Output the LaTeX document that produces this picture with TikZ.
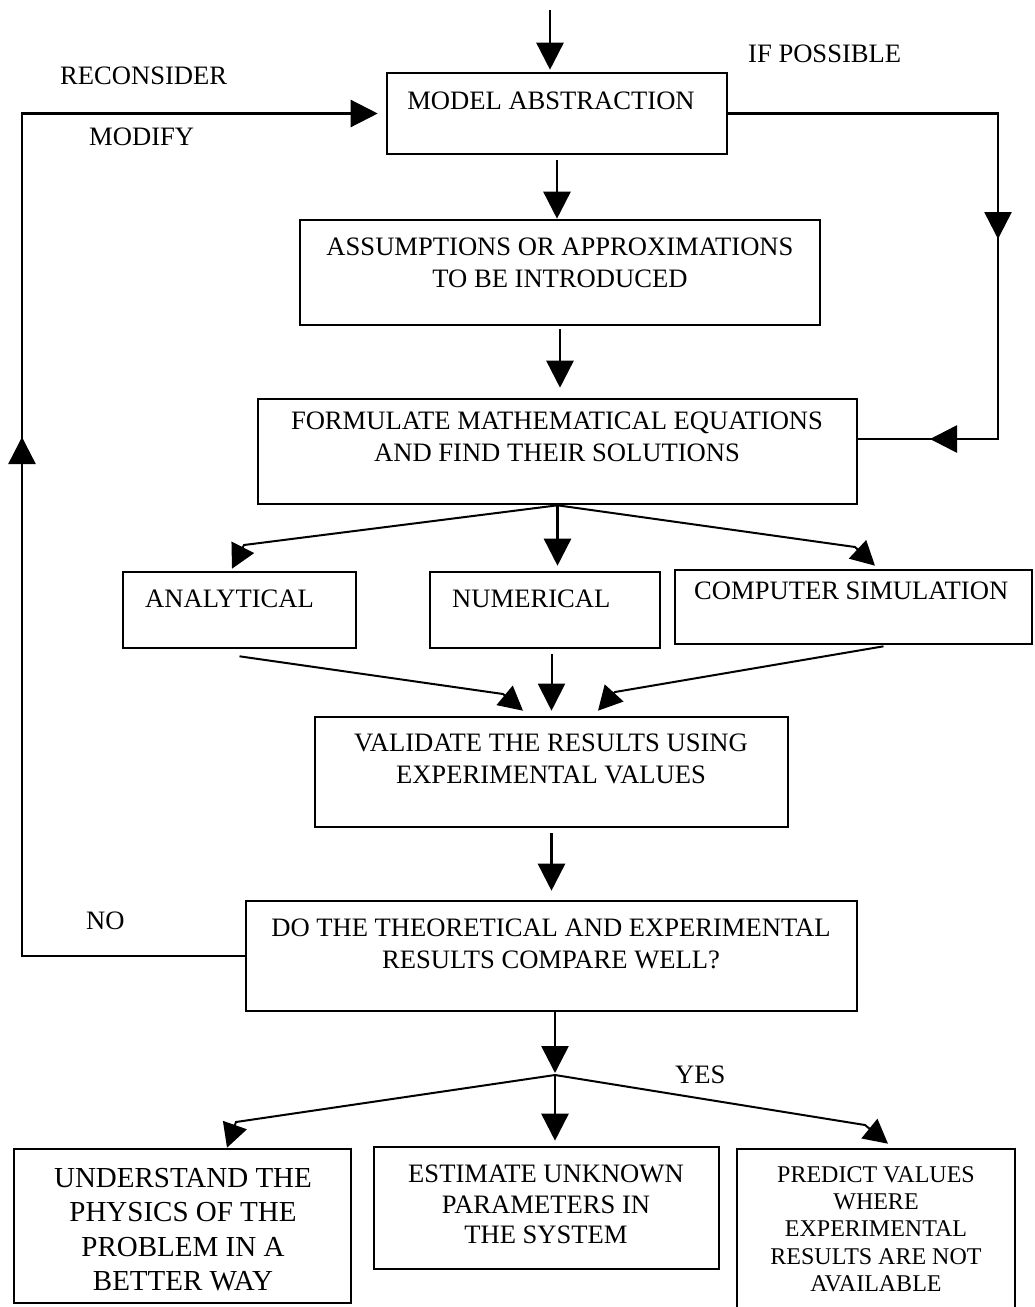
\documentclass[tikz,border=0pt]{standalone}
\usepackage{fontspec}
\setmainfont{Liberation Serif}
\usetikzlibrary{arrows.meta,calc}
\begin{document}
\begin{tikzpicture}[x=1pt,y=-1pt]
\tikzset{
 box/.style={draw, line width=2.6pt, inner sep=0pt},
 conn/.style={line width=2.3pt},
 arr/.style={line width=2.6pt, -{Triangle[length=27pt,width=27pt]}},
 sarr/.style={line width=2pt, -{Triangle[length=24pt,width=25pt]}},
 txt/.style={font=\fontsize{26.6}{32}\selectfont, inner sep=0pt, align=center},
 midtxt/.style={font=\fontsize{26.6}{30.5}\selectfont, inner sep=0pt, align=center},
 bigtxt/.style={font=\fontsize{29}{34.5}\selectfont, inner sep=0pt, align=center},
 smalltxt/.style={font=\fontsize{24}{27.3}\selectfont, inner sep=0pt, align=center},
}
\path[use as bounding box, fill=white] (0,0) rectangle (1034,1307);

% boxes
\node[box, minimum width=340pt, minimum height=81pt] (m) at (557,113.5) {};
\node[box, minimum width=520pt, minimum height=105pt] (a) at (560,272.5) {};
\node[box, minimum width=599pt, minimum height=105pt] (f) at (557.5,451.5) {};
\node[box, minimum width=233pt, minimum height=76pt] (an) at (239.5,610) {};
\node[box, minimum width=230pt, minimum height=76pt] (nu) at (545,610) {};
\node[box, minimum width=357pt, minimum height=74pt] (cs) at (853.5,607) {};
\node[box, minimum width=473pt, minimum height=110pt] (v) at (551.5,772) {};
\node[box, minimum width=611pt, minimum height=110pt] (d) at (551.5,956) {};
\node[box, minimum width=337pt, minimum height=154pt] (u) at (182.5,1226) {};
\node[box, minimum width=345pt, minimum height=122pt] (e) at (546.5,1208) {};
\node[box, minimum width=278pt, minimum height=171pt] (p) at (876,1234.5) {};

% texts
\node[txt, anchor=north] (tm) at (551,92) {MODEL ABSTRACTION};
\node[txt, anchor=north] (ta) at (560,238) {ASSUMPTIONS OR APPROXIMATIONS\\TO BE INTRODUCED};
\node[txt, anchor=north] (tf) at (557,412) {FORMULATE MATHEMATICAL EQUATIONS\\AND FIND THEIR SOLUTIONS};
\node[txt, anchor=north west] (tan) at (145,590) {ANALYTICAL};
\node[txt, anchor=north west] (tnu) at (452,590) {NUMERICAL};
\node[txt, anchor=north west] (tcs) at (694,582) {COMPUTER SIMULATION};
\node[txt, anchor=north] (tv) at (551,734) {VALIDATE THE RESULTS USING\\EXPERIMENTAL VALUES};
\node[txt, anchor=north] (td) at (551,919) {DO THE THEORETICAL AND EXPERIMENTAL\\RESULTS COMPARE WELL?};
\node[bigtxt, anchor=north] (tu) at (183,1168) {UNDERSTAND THE\\PHYSICS OF THE\\PROBLEM IN A\\BETTER WAY};
\node[midtxt, anchor=north] (te) at (546,1165) {ESTIMATE UNKNOWN\\PARAMETERS IN\\THE SYSTEM};
\node[smalltxt, anchor=north] (tp) at (876,1166) {PREDICT VALUES\\WHERE\\EXPERIMENTAL\\RESULTS ARE NOT\\AVAILABLE};
\node[txt, anchor=north west] (lrec) at (60,67) {RECONSIDER};
\node[txt, anchor=north west] (lmod) at (89,128) {MODIFY};
\node[txt, anchor=north west] (lif) at (748,45) {IF POSSIBLE};
\node[txt, anchor=north west] (lno) at (86,912) {NO};
\node[txt, anchor=north west] (lyes) at (675,1066) {YES};

% coordinates
\coordinate (in) at (550,10);
\coordinate (rx) at (998,0);
\coordinate (r2) at (998,439);
\coordinate (rdown) at (998,239);
\coordinate (rleft) at (930,439);
\coordinate (lx) at (22,0);
\coordinate (lup) at (22,437);
\coordinate (kA) at (244,545);
\coordinate (kC) at (855,547);
\coordinate (kV1) at (503,694);
\coordinate (kV3) at (615,692);
\coordinate (br) at (555,1075);
\coordinate (kU) at (236,1122);
\coordinate (kP) at (865,1125);

% main chain
\draw[arr, shorten >=2pt] (in) -- (in |- m.north);
\draw[arr, shorten <=5pt] (m.south) -- (m.south |- a.north);
\draw[arr, shorten <=3pt, shorten >=10pt] (a.south) -- (a.south |- f.north);

% if possible
\draw[conn] (m.east) -- (m.east -| rx) -- (r2) -- (r2 -| f.east);
\draw[arr] (m.east -| rx) -- (rdown);
\draw[arr] (r2) -- (rleft);

% feedback loop
\draw[arr, line width=2.4pt, shorten >=8pt] (d.west) -- (d.west -| lx) -- (m.west -| lx) -- (m.west);
\draw[arr, line width=2.4pt] (d.west -| lx) -- (lup);

% branches from f
\draw[sarr] (f.south) -- (kA) -- ([xshift=-7.5pt,yshift=2pt]an.north);
\draw[arr, shorten >=5pt] (f.south) -- (f.south |- nu.north);
\draw[sarr] (f.south) -- (kC) -- ([xshift=21.5pt,yshift=3pt]cs.north);

% converging into v
\draw[sarr] ([yshift=-7pt]an.south) -- (kV1) -- ([xshift=-28.5pt,yshift=5pt]v.north);
\draw[arr, line width=2pt, shorten <=5pt, shorten >=5pt] (v.north |- nu.south) -- (v.north);
\draw[sarr] ([xshift=30pt,yshift=-1pt]cs.south) -- (kV3) -- ([xshift=46.5pt,yshift=5pt]v.north);

% v to d
\draw[arr, shorten <=5pt, shorten >=9pt] (v.south) -- (v.south |- d.north);

% d to branch
\draw[arr, shorten >=2pt] (d.south -| br) -- (br);
\draw[sarr] (br) -- (kU) -- ([xshift=44.5pt]u.north);
\draw[arr, shorten >=5pt] (br) -- (br |- e.north);
\draw[sarr] (br) -- (kP) -- ([xshift=12pt,yshift=4pt]p.north);
\end{tikzpicture}
\end{document}
